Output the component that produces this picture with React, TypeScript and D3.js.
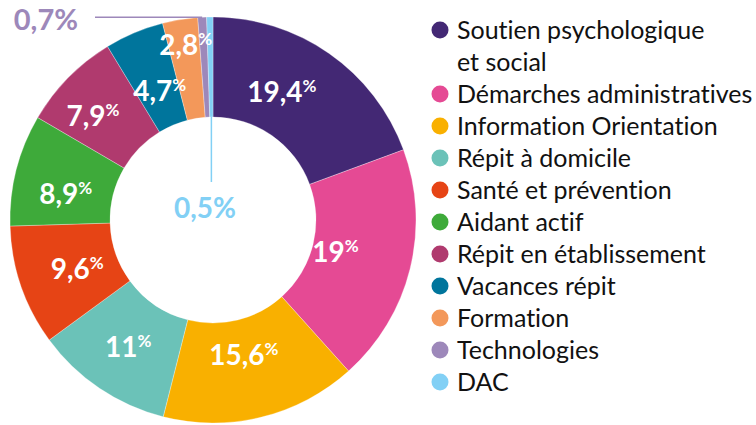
import * as d3 from 'd3';

const categories = [
  'Soutien psychologique et social',
  'Démarches administratives',
  'Information Orientation',
  'Répit à domicile',
  'Santé et prévention',
  'Aidant actif',
  'Répit en établissement',
  'Vacances répit',
  'Formation',
  'Technologies',
  'DAC',
];
const values = [19.4, 19, 15.6, 11, 9.6, 8.9, 7.9, 4.7, 2.8, 0.7, 0.5];
const valueLabels = ['19,4', '19', '15,6', '11', '9,6', '8,9', '7,9', '4,7', '2,8', '0,7', '0,5'];
const colors = [
  '#432874', '#e54a94', '#f9b000', '#6bc2b8', '#e64415', '#3eaa3a',
  '#b03a6e', '#00759c', '#f3985a', '#9d88ba', '#82d0f5',
];
const legendLines = [
  ['Soutien psychologique', 'et social'],
  ['Démarches administratives'], ['Information Orientation'], ['Répit à domicile'],
  ['Santé et prévention'], ['Aidant actif'], ['Répit en établissement'],
  ['Vacances répit'], ['Formation'], ['Technologies'], ['DAC'],
];

const W = 756;
const H = 425;
const cx = 213;
const cy = 220;
const outerR = 203;
const innerR = 103;
const font = 'Lato, "Noto Sans", sans-serif';

// hand placement tweaks for the in-slice labels (pixels, from the centroid)
const nudge: [number, number][] = [
  [-17, -5], [-23, -4], [-5, -11], [-1, 3], [6, 0], [-2, 11],
  [-13, 1], [5, 9], [-3, -27],
];

export default function App() {
  const data = categories.map((c, i) => ({ name: c, value: values[i] }));
  const pie = d3.pie<any>().value((d) => d.value).sort(null);
  const arcs = pie(data);
  const arc = d3.arc<any>().innerRadius(innerR).outerRadius(outerR);
  const labelArc = d3.arc<any>().innerRadius(150).outerRadius(150);
  const outerPt = d3.arc<any>().innerRadius(outerR).outerRadius(outerR);
  const innerPt = d3.arc<any>().innerRadius(innerR).outerRadius(innerR);

  const yLegend = d3.scaleLinear().domain([0, 1]).range([30, 62]);
  let row = 0;

  const [tx, ty] = outerPt.centroid(arcs[9]);
  const [dx, dy] = innerPt.centroid(arcs[10]);

  return (
    <svg width={W} height={H} style={{ position: 'absolute', left: 0, top: 0, fontVariantLigatures: 'none' }}
      fontFamily={font}>
      <rect width={W} height={H} fill="#fff" />
      <g transform={`translate(${cx},${cy})`}>
        {arcs.map((a, i) => (
          <path key={i} d={arc(a) as string} fill={colors[i]} stroke="#fff" strokeWidth={0.3} />
        ))}
        {arcs.slice(0, 9).map((a, i) => {
          const [x, y] = labelArc.centroid(a);
          const [nx, ny] = nudge[i];
          return (
            <text key={i} x={x + nx} y={y + ny + 10} textAnchor="middle" fill="#fff"
              fontWeight={700} fontSize={28}>
              {valueLabels[i]}
              <tspan fontSize={17} dy={-10}>%</tspan>
            </text>
          );
        })}
        {/* Technologies callout */}
        <line x1={tx} y1={ty} x2={95 - cx} y2={ty} stroke={colors[9]} strokeWidth={1.5} />
        <text x={78 - cx} y={30 - cy} textAnchor="end" fill={colors[9]} fontWeight={700} fontSize={29}>
          {valueLabels[9]}%
        </text>
        {/* DAC callout */}
        <line x1={dx} y1={dy} x2={dx} y2={182 - cy} stroke={colors[10]} strokeWidth={1.5} />
        <text x={-8} y={218 - cy} textAnchor="middle" fill={colors[10]} fontWeight={700} fontSize={28}>
          {valueLabels[10]}%
        </text>
      </g>
      <g>
        {legendLines.map((lines, i) => {
          const y0 = yLegend(row);
          row += lines.length;
          return (
            <g key={i}>
              <circle cx={440} cy={y0} r={8.5} fill={colors[i]} />
              {lines.map((t, j) => (
                <text key={j} x={457} y={yLegend(row - lines.length + j) + 9} fontSize={25} fill="#111">
                  {t}
                </text>
              ))}
            </g>
          );
        })}
      </g>
    </svg>
  );
}
